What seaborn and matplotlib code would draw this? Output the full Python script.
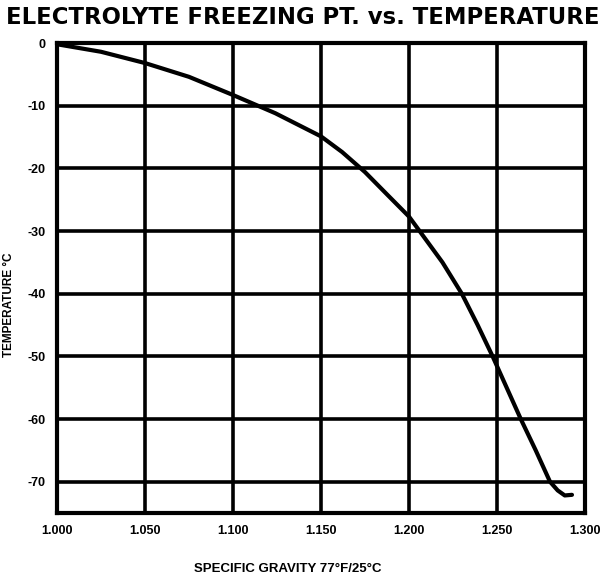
import matplotlib
matplotlib.use("Agg")
import matplotlib.pyplot as plt
import seaborn as sns
import pandas as pd
from matplotlib import font_manager

# Freezing point of battery electrolyte against specific gravity
specific_gravity = [1.000, 1.025, 1.050, 1.075, 1.100, 1.124, 1.150, 1.162,
                    1.175, 1.188, 1.200, 1.206, 1.219, 1.230, 1.239, 1.2475,
                    1.2555, 1.2635, 1.2720, 1.2801, 1.2845, 1.2885, 1.2926]
freezing_c = [-0.2, -1.4, -3.2, -5.4, -8.3, -11.2, -14.9, -17.4,
              -20.6, -24.3, -27.7, -30.0, -35.0, -40.0, -45.0, -50.0,
              -55.0, -60.0, -65.0, -70.0, -71.4, -72.2, -72.1]

x_ticks = [1.000, 1.050, 1.100, 1.150, 1.200, 1.250, 1.300]
x_tick_labels = ["1.000", "1.050", "1.100", "1.150", "1.200", "1.250", "1.300"]
y_ticks = [0, -10, -20, -30, -40, -50, -60, -70]
y_tick_labels = ["0", "-10", "-20", "-30", "-40", "-50", "-60", "-70"]

df = pd.DataFrame({"sg": specific_gravity, "temp": freezing_c})

sns.set_theme(style="white")

installed = {f.name for f in font_manager.fontManager.ttflist}
narrow = "Liberation Sans Narrow" if "Liberation Sans Narrow" in installed else "Liberation Sans"

fig = plt.figure(figsize=(6.07, 5.83), dpi=100)
ax = fig.add_axes([57 / 607, 1 - 513 / 583, 528 / 607, 470 / 583])

sns.lineplot(data=df, x="sg", y="temp", sort=False, ax=ax,
             color="black", linewidth=3.0, zorder=3,
             solid_joinstyle="round", solid_capstyle="round")

ax.set_xlim(1.000, 1.300)
ax.set_ylim(-75, 0)

ax.set_xticks(x_ticks)
ax.set_xticklabels(x_tick_labels, fontfamily=narrow, fontweight="bold",
                   fontsize=9, color="black")
ax.set_yticks(y_ticks)
ax.set_yticklabels(y_tick_labels, fontfamily=narrow, fontweight="bold",
                   fontsize=9, color="black")
ax.tick_params(axis="both", length=0, colors="black")
ax.tick_params(axis="x", pad=9)
ax.tick_params(axis="y", pad=8)

for v in x_ticks[1:-1]:
    ax.axvline(v, color="black", linewidth=2.6, zorder=1)
for v in y_ticks[1:]:
    ax.axhline(v, color="black", linewidth=2.6, zorder=1)

for s in ax.spines.values():
    s.set_visible(True)
    s.set_color("black")
    s.set_linewidth(3.0)

ax.set_xlabel("")
ax.set_ylabel("")

fig.text(303 / 607, 1 - 17 / 583, "ELECTROLYTE FREEZING PT. vs. TEMPERATURE",
         ha="center", va="center", fontsize=16.4, fontweight="bold",
         family="DejaVu Sans", color="black")
fig.text(288 / 607, 1 - 569 / 583, "SPECIFIC GRAVITY 77°F/25°C",
         ha="center", va="center", fontsize=9.5, fontweight="bold",
         family=narrow, color="black")
fig.text(9 / 607, 1 - 305 / 583, "TEMPERATURE °C", rotation=90,
         ha="center", va="center", fontsize=8.5, fontweight="bold",
         family=narrow, color="black")

fig.savefig("out.png", dpi=100, facecolor="white")
